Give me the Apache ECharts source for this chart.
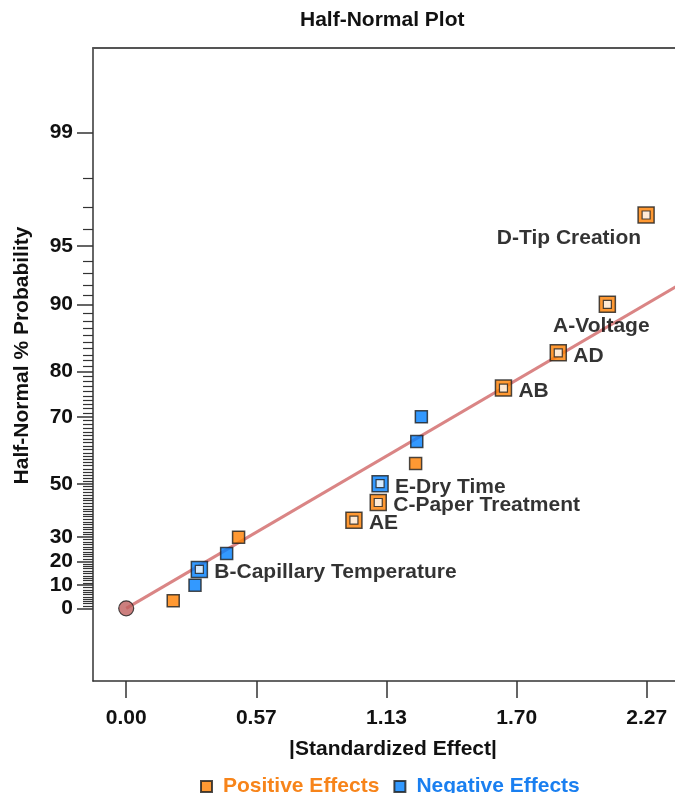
<!DOCTYPE html>
<html><head><meta charset="utf-8">
<script src="https://cdn.jsdelivr.net/npm/echarts@6/dist/echarts.min.js"></script>
<style>html,body{margin:0;padding:0;background:#fff}#c{width:675px;height:793px}</style>
</head><body><div id="c"></div>
<script>
// ---- data ----
const labeledNames  = ['D-Tip Creation','A-Voltage','AD','AB','E-Dry Time','C-Paper Treatment','AE','B-Capillary Temperature'];
const labeledEffect = [2.267, 2.098, 1.884, 1.645, 1.107, 1.099, 0.993, 0.319];
const labeledProb   = [96.67, 90, 83.33, 76.67, 50, 43.33, 36.67, 16.67];
const labeledSign   = ['pos','pos','pos','pos','neg','pos','pos','neg'];
const posEffect = [0.205, 0.49, 1.262];
const posProb   = [3.33, 30, 56.67];
const negEffect = [0.300, 0.438, 1.267, 1.287];
const negProb   = [10, 23.33, 63.33, 70];
const originEffect = [0];
const originProb   = [0];
const fitLineEffect = [0, 2.6];
const fitLineProb   = [0, 94.1];
const xTickValues = [0, 0.5675, 1.135, 1.7025, 2.27];
const xTickLabels = ['0.00','0.57','1.13','1.70','2.27'];
const yTickProb   = [0, 10, 20, 30, 50, 70, 80, 90, 95, 99];
const yMinorProb  = [];
for (let p = 1; p <= 98; p++) if (yTickProb.indexOf(p) < 0) yMinorProb.push(p);

// ---- half-normal probability scale ----
function normInv(p){
  const a=[-3.969683028665376e+01,2.209460984245205e+02,-2.759285104469687e+02,1.383577518672690e+02,-3.066479806614716e+01,2.506628277459239e+00];
  const b=[-5.447609879822406e+01,1.615858368580409e+02,-1.556989798598866e+02,6.680131188771972e+01,-1.328068155288572e+01];
  const c=[-7.784894002430293e-03,-3.223964580411365e-01,-2.400758277161838e+00,-2.549671464906228e+00,4.374664141464968e+00,2.938163982698783e+00];
  const d=[7.784695709041462e-03,3.224671290700398e-01,2.445134137142996e+00,3.754408661907416e+00];
  const pl=0.02425, ph=1-pl; let q,r;
  if(p<pl){q=Math.sqrt(-2*Math.log(p));return (((((c[0]*q+c[1])*q+c[2])*q+c[3])*q+c[4])*q+c[5])/((((d[0]*q+d[1])*q+d[2])*q+d[3])*q+1);}
  if(p<=ph){q=p-0.5;r=q*q;return (((((a[0]*r+a[1])*r+a[2])*r+a[3])*r+a[4])*r+a[5])*q/(((((b[0]*r+b[1])*r+b[2])*r+b[3])*r+b[4])*r+1);}
  q=Math.sqrt(-2*Math.log(1-p));return -(((((c[0]*q+c[1])*q+c[2])*q+c[3])*q+c[4])*q+c[5])/((((d[0]*q+d[1])*q+d[2])*q+d[3])*q+1);
}
function hz(pct){ return pct <= 0 ? 0 : normInv(0.5 + pct/200); }

const ORANGE = '#ff8000', BLUE = '#0080ff', EDGE = '#1e1e1e';
const FONT = 'Liberation Sans, Arial, sans-serif';
const FS = 21;
const labelPlace = {
  'D-Tip Creation': {align:'right', offset:[-5, 23]},
  'A-Voltage': {align:'center', offset:[-6, 22]}
};
const LABEL_FONT = {color:'#000', fontWeight:'bold', fontSize:FS, fontFamily:FONT};

function pts(xs, ps){ return xs.map((x,i)=>[x, hz(ps[i])]); }
function labeledItems(sign){
  const out=[];
  labeledNames.forEach((n,i)=>{
    if(labeledSign[i]!==sign) return;
    const pl = labelPlace[n] || {align:'left', offset:[15, 3]};
    out.push({name:n, value:[labeledEffect[i], hz(labeledProb[i])], symbolSize:16,
      label:Object.assign({show:true, formatter:n, position:'inside', align:pl.align, verticalAlign:'middle', offset:pl.offset}, LABEL_FONT)});
  });
  return out;
}
const majorZ = yTickProb.map(hz);
const minorZ = yMinorProb.map(hz);
function nearestIdx(arr, v){ let bi=0, bd=Infinity; arr.forEach((a,i)=>{const dd=Math.abs(a-v); if(dd<bd){bd=dd;bi=i;}}); return bi; }

const X_MIN = -0.1448, X_MAX = 2.393, Y_MIN = -0.393, Y_MAX = 3.032;
const chart = echarts.init(document.getElementById('c'), null, {renderer:'canvas'});
chart.setOption({
  animation:false,
  backgroundColor:'#fff',
  title:{text:'Half-Normal Plot', left:295, top:5, textStyle:{fontSize:FS, fontWeight:'bold', color:'#111', fontFamily:FONT}},
  grid:{left:93, top:48, right:0, bottom:112, show:false},
  legend:{data:[{name:'Positive Effects', textStyle:{color:'#f7841a'}},{name:'Negative Effects', textStyle:{color:'#1a7ff0'}}],
    left:195, top:771, icon:'rect', itemWidth:11, itemHeight:11, itemGap:14,
    textStyle:{fontSize:FS, fontWeight:'bold', fontFamily:FONT, padding:[0,0,0,6]}},
  xAxis:[{type:'value', min:X_MIN, max:X_MAX, position:'bottom',
    axisLine:{show:true, onZero:false, lineStyle:{color:'#333', width:1.5}},
    axisTick:{show:true, customValues:xTickValues, length:17, lineStyle:{color:'#333', width:1.5}},
    axisLabel:{show:true, customValues:xTickValues, margin:27, color:'#111', fontWeight:'bold', fontSize:FS, fontFamily:FONT,
      formatter:v=>xTickLabels[nearestIdx(xTickValues, v)]},
    splitLine:{show:false},
    name:'|Standardized Effect|', nameLocation:'middle', nameGap:58,
    nameTextStyle:{color:'#111', fontWeight:'bold', fontSize:FS, fontFamily:FONT, padding:[0,0,0,18]}},
   {type:'value', min:X_MIN, max:X_MAX, position:'top',
    axisLine:{show:true, onZero:false, lineStyle:{color:'#555', width:2}},
    axisTick:{show:false}, axisLabel:{show:false}, splitLine:{show:false}}],
  yAxis:[{type:'value', min:Y_MIN, max:Y_MAX, position:'left',
    axisLine:{show:true, onZero:false, lineStyle:{color:'#333', width:1.5}},
    axisTick:{show:true, customValues:majorZ, length:16, lineStyle:{color:'#333', width:1.5}},
    axisLabel:{show:true, customValues:majorZ, margin:20, color:'#111', fontWeight:'bold', fontSize:FS, fontFamily:FONT,
      formatter:v=>String(yTickProb[nearestIdx(majorZ, v)])},
    splitLine:{show:false},
    name:'Half-Normal % Probability', nameLocation:'middle', nameGap:60, nameRotate:90,
    nameTextStyle:{color:'#111', fontWeight:'bold', fontSize:FS, fontFamily:FONT, padding:[0,0,0,18]}},
   {type:'value', min:Y_MIN, max:Y_MAX, position:'left',
    axisLine:{show:false, onZero:false},
    axisTick:{show:true, customValues:minorZ, length:10, lineStyle:{color:'#333', width:1.2}},
    axisLabel:{show:false}, splitLine:{show:false}}],
  series:[
    {type:'line', name:'fit', data:pts(fitLineEffect, fitLineProb), showSymbol:false, symbol:'none',
      lineStyle:{color:'#da8585', width:3}, z:1, silent:true},
    {type:'scatter', name:'origin', data:pts(originEffect, originProb), symbol:'circle', symbolSize:15,
      itemStyle:{color:'#bf5f5e', borderColor:EDGE, borderWidth:1.2}, z:3},
    {type:'scatter', name:'Positive Effects', symbol:'rect', symbolSize:12,
      data:pts(posEffect, posProb).concat(labeledItems('pos')),
      itemStyle:{color:ORANGE, borderColor:EDGE, borderWidth:1.5}, z:4},
    {type:'scatter', name:'Negative Effects', symbol:'rect', symbolSize:12,
      data:pts(negEffect, negProb).concat(labeledItems('neg')),
      itemStyle:{color:BLUE, borderColor:EDGE, borderWidth:1.5}, z:4},
    {type:'scatter', name:'inner', symbol:'rect', symbolSize:8,
      data:pts(labeledEffect, labeledProb),
      itemStyle:{color:'#fff', borderColor:EDGE, borderWidth:1.2}, z:5, silent:true}
  ]
});
</script></body></html>
